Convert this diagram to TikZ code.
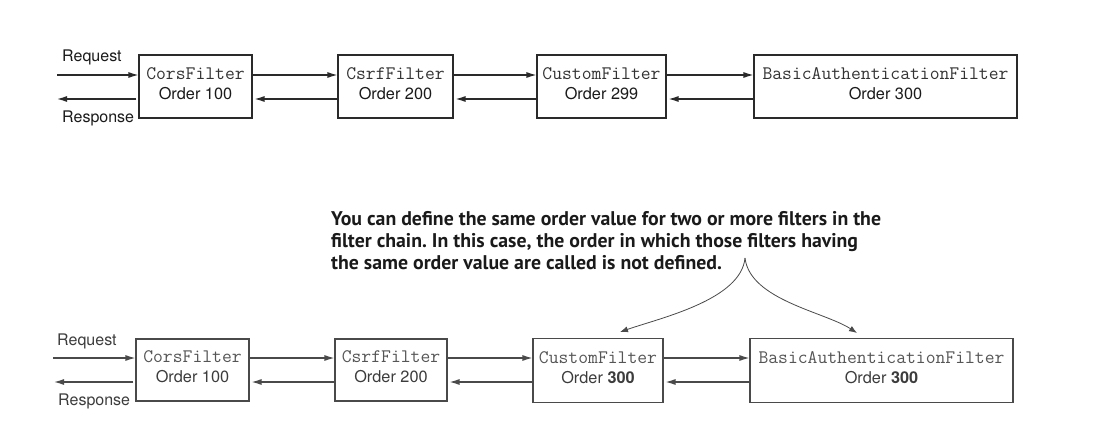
\documentclass[tikz,border=0pt]{standalone}
\usepackage{fontspec}
\setmainfont{TeX Gyre Heros}
\newfontfamily\notefont{PT Sans}
\usetikzlibrary{arrows.meta}
\frenchspacing
\definecolor{inkA}{HTML}{1A1A1A}
\definecolor{inkB}{HTML}{3C3C3C}
\definecolor{monoA}{HTML}{333333}
\definecolor{monoB}{HTML}{555555}
\definecolor{lineA}{HTML}{2A2A2A}
\definecolor{lineB}{HTML}{4A4A4A}
\newcommand{\fname}[1]{{\ttfamily\fontsize{19.1}{20}\selectfont #1}}
\tikzset{
  fbox/.style={draw, line width=1.1pt, inner sep=0pt, minimum height=63pt, align=center,
    font=\fontsize{16.3}{20}\selectfont, text depth=6pt},
  toprow/.style={fbox, draw=lineA, text=inkA},
  botrow/.style={fbox, draw=lineB, text=inkB},
  arr/.style={line width=1.2pt, -{Latex[length=10pt,width=6pt]}},
  arrA/.style={arr, draw=lineA},
  arrB/.style={arr, draw=lineB},
  lbl/.style={anchor=base west, inner sep=0pt, font=\fontsize{16}{19}\selectfont},
  curve/.style={line width=0.8pt, draw=lineB, -{Latex[length=8pt,width=6pt]}},
}
\begin{document}
\begin{tikzpicture}[x=1pt, y=-1pt]
\useasboundingbox (0,0) rectangle (1117,426);

% top row
\node[toprow, minimum width=113pt] (c1) at (195.5,86.5) {\textcolor{monoA}{\fname{CorsFilter}}\\Order 100};
\node[toprow, minimum width=115pt] (c2) at (395.5,86.5) {\textcolor{monoA}{\fname{CsrfFilter}}\\Order 200};
\node[toprow, minimum width=129pt] (c3) at (601.5,86.5) {\textcolor{monoA}{\fname{CustomFilter}}\\Order 299};
\node[toprow, minimum width=263pt] (c4) at (885.5,86.5) {\textcolor{monoA}{\fname{BasicAuthenticationFilter}}\\Order 300};

\coordinate (reqA) at (57,75);
\coordinate (resA) at (57,99);
\node[lbl, text=inkA] (reqAl) at (62,61.7) {Request};
\node[lbl, text=inkA] (resAl) at (62,122) {Response};

\draw[arrA] (reqA) -- ([yshift=11.5pt]c1.west);
\draw[arrA] ([yshift=-12.5pt,xshift=-2pt]c1.west) -- (resA);
\draw[arrA] ([yshift=11.5pt]c1.east) -- ([yshift=11.5pt]c2.west);
\draw[arrA] ([yshift=-12.5pt]c2.west) -- ([yshift=-12.5pt,xshift=2pt]c1.east);
\draw[arrA] ([yshift=11.5pt]c2.east) -- ([yshift=11.5pt]c3.west);
\draw[arrA] ([yshift=-12.5pt]c3.west) -- ([yshift=-12.5pt,xshift=2pt]c2.east);
\draw[arrA] ([yshift=11.5pt]c3.east) -- ([yshift=11.5pt]c4.west);
\draw[arrA] ([yshift=-12.5pt]c4.west) -- ([yshift=-12.5pt,xshift=2pt]c3.east);

% note
\node[anchor=north west, inner sep=0pt, align=left, text=inkA,
      font=\notefont\bfseries\fontsize{19.8}{21.7}\selectfont] (note) at (331,211.5)
  {You can define the same order value for two or more filters in the\\
   filter chain. In this case, the order in which those filters having\\
   the same order value are called is not defined.};

% bottom row
\node[botrow, minimum width=113pt, minimum height=62pt] (d1) at (192.5,370) {\textcolor{monoB}{\fname{CorsFilter}}\\Order 100};
\node[botrow, minimum width=112pt, minimum height=62pt] (d2) at (391,370) {\textcolor{monoB}{\fname{CsrfFilter}}\\Order 200};
\node[botrow, minimum width=130pt, minimum height=64pt] (d3) at (598,370.5) {\textcolor{monoB}{\fname{CustomFilter}}\\Order \textbf{300}};
\node[botrow, minimum width=263pt, minimum height=64pt] (d4) at (881.5,370.5) {\textcolor{monoB}{\fname{BasicAuthenticationFilter}}\\Order \textbf{300}};

\coordinate (reqB) at (53,358);
\coordinate (resB) at (54,382);
\node[lbl, text=inkB] (reqBl) at (57,345) {Request};
\node[lbl, text=inkB] (resBl) at (58,405) {Response};

\draw[arrB] (reqB) -- ([yshift=12pt]d1.west);
\draw[arrB] ([yshift=-12pt,xshift=-2pt]d1.west) -- (resB);
\draw[arrB] ([yshift=12pt]d1.east) -- ([yshift=12pt]d2.west);
\draw[arrB] ([yshift=-12pt]d2.west) -- ([yshift=-12pt,xshift=2pt]d1.east);
\draw[arrB] ([yshift=12pt]d2.east) -- ([yshift=12.5pt]d3.west);
\draw[arrB] ([yshift=-11.5pt]d3.west) -- ([yshift=-12pt,xshift=2pt]d2.east);
\draw[arrB] ([yshift=12.5pt]d3.east) -- ([yshift=12.5pt]d4.west);
\draw[arrB] ([yshift=-11.5pt]d4.west) -- ([yshift=-11.5pt,xshift=2pt]d3.east);

% brace-like connectors
\coordinate (apex) at (745,258);
\coordinate (tipL) at (620,332);
\coordinate (tipR) at (857,333);
\draw[curve] (apex) .. controls (741,300) and (660,318) .. (tipL);
\draw[curve] (apex) .. controls (750,300) and (825,312) .. (tipR);
\end{tikzpicture}
\end{document}
